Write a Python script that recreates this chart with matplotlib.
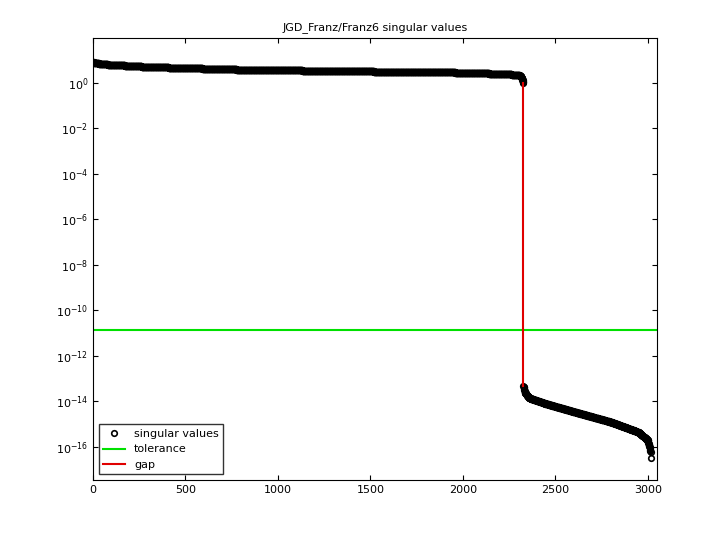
import numpy as np
import matplotlib
matplotlib.use("Agg")
import matplotlib.pyplot as plt

# anchor readings of the singular value curve (index, log10 value)
sig_idx = [1, 50, 300, 800, 1500, 2000, 2250, 2310, 2320, 2327]
sig_log = [0.90, 0.82, 0.70, 0.58, 0.50, 0.45, 0.38, 0.32, 0.20, 0.0]
null_idx = [2328, 2335, 2360, 2450, 2600, 2800, 2950, 3000, 3010, 3015]
null_log = [-13.3, -13.6, -13.85, -14.1, -14.45, -14.9, -15.35, -15.7, -16.0, -16.2]
last_idx = [3016]
last_log = [-16.5]
tolerance = 1.4e-11
rank = 2327
gap_top = 1.0
gap_bottom = 10 ** -13.3

x1 = np.arange(sig_idx[0], sig_idx[-1] + 1)
x2 = np.arange(null_idx[0], null_idx[-1] + 1)
s = np.concatenate([10 ** np.interp(x1, sig_idx, sig_log),
                    10 ** np.interp(x2, null_idx, null_log),
                    10 ** np.array(last_log)])
x = np.concatenate([x1, x2, last_idx])

fig = plt.figure(figsize=(7.2, 5.4), dpi=100)
ax = fig.add_axes([93/720, 60/540, 564/720, 442/540])
ax.semilogy(x, s, 'o', mfc='none', mec='black', ms=4, mew=1.2, label='singular values')
ax.axhline(tolerance, color='#00e000', lw=1.5, label='tolerance')
ax.plot([rank, rank], [gap_top, gap_bottom], color='#e00000', lw=1.5, label='gap')
ax.set_xlim(0, 3050)
ax.set_ylim(10 ** -17.45, 10 ** 1.97)
ax.set_xticks([0, 500, 1000, 1500, 2000, 2500, 3000])
ax.set_yticks([10.0 ** k for k in range(0, -17, -2)])
ax.minorticks_off()
ax.tick_params(labelsize=8, direction='in', top=True, right=True)
ax.set_title('JGD_Franz/Franz6 singular values', fontsize=8)
ax.legend(loc='lower left', fontsize=8, frameon=True, fancybox=False, edgecolor='black')
fig.savefig('out.png')
